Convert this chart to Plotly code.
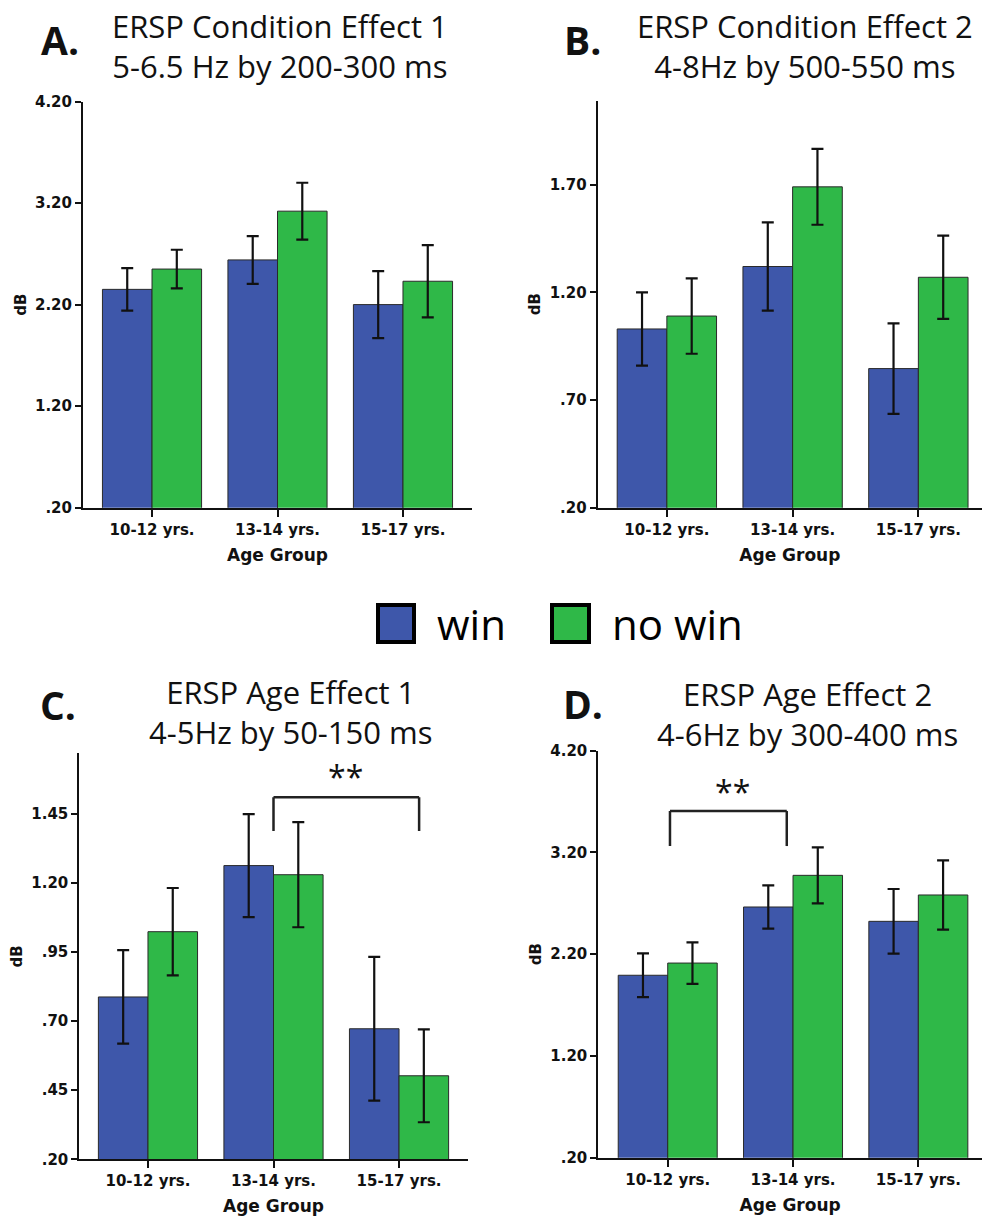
import plotly.graph_objects as go

# ---------------- data ----------------
categories = ["10-12 yrs.", "13-14 yrs.", "15-17 yrs."]
series_names = ["win", "no win"]

A_win = [2.35, 2.64, 2.20]
A_win_err = [0.21, 0.235, 0.33]
A_nowin = [2.55, 3.12, 2.43]
A_nowin_err = [0.19, 0.28, 0.355]

B_win = [1.03, 1.32, 0.846]
B_win_err = [0.17, 0.205, 0.21]
B_nowin = [1.09, 1.69, 1.27]
B_nowin_err = [0.175, 0.176, 0.193]

C_win = [0.787, 1.262, 0.672]
C_win_err = [0.169, 0.186, 0.26]
C_nowin = [1.023, 1.229, 0.502]
C_nowin_err = [0.158, 0.19, 0.168]

D_win = [1.993, 2.664, 2.523]
D_win_err = [0.215, 0.213, 0.318]
D_nowin = [2.113, 2.975, 2.782]
D_nowin_err = [0.204, 0.275, 0.34]

ticks_AD = [0.2, 1.2, 2.2, 3.2, 4.2]
ticklabels_AD = [".20", "1.20", "2.20", "3.20", "4.20"]
ticks_B = [0.2, 0.7, 1.2, 1.7]
ticklabels_B = [".20", ".70", "1.20", "1.70"]
ticks_C = [0.2, 0.45, 0.7, 0.95, 1.2, 1.45]
ticklabels_C = [".20", ".45", ".70", ".95", "1.20", "1.45"]

titles = {
    "A": ("ERSP Condition Effect 1", "5-6.5 Hz by 200-300 ms"),
    "B": ("ERSP Condition Effect 2", "4-8Hz by 500-550 ms"),
    "C": ("ERSP Age Effect 1", "4-5Hz by 50-150 ms"),
    "D": ("ERSP Age Effect 2", "4-6Hz by 300-400 ms"),
}

# ---------------- style ----------------
W, H = 982, 1218
BLUE = "#3E57AA"
GREEN = "#2FB848"
INK = "#111111"
TICKFONT = dict(family="DejaVu Sans", size=15, color=INK, weight="bold")
AXTITLEFONT = dict(family="DejaVu Sans", size=17, color=INK, weight="bold")
DBFONT = dict(family="DejaVu Sans", size=15, color=INK, weight="bold")
TITLEFONT = dict(family="Open Sans", size=31, color=INK)
LETTERFONT = dict(family="Open Sans", size=39, color=INK, weight="bold")


def px(x):
    return x / W


def py(y):
    return 1 - y / H


fig = go.Figure()

panels = [
    ("A", "", A_win, A_win_err, A_nowin, A_nowin_err, (83, 472), (101.5, 507.7), [-0.55, 2.55], [0.2, 4.2], ticks_AD, ticklabels_AD),
    ("B", "2", B_win, B_win_err, B_nowin, B_nowin_err, (597.7, 982), (100.7, 507.7), [-0.55, 2.506], [0.2, 2.09], ticks_B, ticklabels_B),
    ("C", "3", C_win, C_win_err, C_nowin, C_nowin_err, (79.3, 467.7), (753.3, 1159.3), [-0.547, 2.547], [0.2, 1.668], ticks_C, ticklabels_C),
    ("D", "4", D_win, D_win_err, D_nowin, D_nowin_err, (598.3, 982), (750.7, 1157.7), [-0.554, 2.508], [0.2, 4.2], ticks_AD, ticklabels_AD),
]

for name, sfx, win, win_err, nowin, nowin_err, xd, yd, xr, yr, tv, tt in panels:
    xa = "x" + sfx
    ya = "y" + sfx
    for vals, errs, col, nm in [(win, win_err, BLUE, series_names[0]), (nowin, nowin_err, GREEN, series_names[1])]:
        fig.add_trace(go.Bar(
            x=categories, y=vals, name=nm, xaxis=xa, yaxis=ya,
            marker=dict(color=col, line=dict(color="#2a2a2a", width=1)),
            error_y=dict(type="data", array=errs, color=INK, thickness=2.2, width=6),
            showlegend=False,
        ))
    fig.layout["xaxis" + sfx] = dict(
        domain=[px(xd[0]), px(xd[1])], range=xr, type="category", anchor=ya,
        showline=True, linecolor=INK, linewidth=2, ticks="outside", ticklen=7,
        tickwidth=1.5, tickcolor=INK, showgrid=False, zeroline=False,
        tickfont=TICKFONT, automargin=False,
        title=dict(text="Age Group", font=AXTITLEFONT, standoff=11),
    )
    fig.layout["yaxis" + sfx] = dict(
        domain=[py(yd[1]), py(yd[0])], range=yr, anchor=xa,
        showline=True, linecolor=INK, linewidth=2, ticks="outside", ticklen=6,
        tickwidth=1.5, tickcolor=INK, showgrid=False, zeroline=False,
        tickmode="array", tickvals=tv, ticktext=tt, tickfont=TICKFONT,
        automargin=False, title=dict(text="dB", font=DBFONT, standoff=5),
    )

# ---------------- titles ----------------
title_pos = {
    # letter center (x,y), two-line title center (x,y)
    "A": ((60, 40), (280, 46)),
    "B": ((582, 39), (805, 46)),
    "C": ((58, 704), (291, 712)),
    "D": ((583, 703), (807, 714)),
}
annotations = []
for name, (lp, tp) in title_pos.items():
    annotations.append(dict(text=name + ".", x=px(lp[0]), y=py(lp[1]), xref="paper", yref="paper",
                            xanchor="center", yanchor="middle", showarrow=False, font=LETTERFONT))
    annotations.append(dict(text=titles[name][0] + "<br>" + titles[name][1], x=px(tp[0]), y=py(tp[1]),
                            xref="paper", yref="paper", align="center",
                            xanchor="center", yanchor="middle", showarrow=False, font=TITLEFONT))

# ---------------- significance brackets ----------------
shapes = []
brackets = [
    ("x3", "y3", 1.0, 2.16, 1.509, 1.387, 1.576, 1.585),
    ("x4", "y4", 0.018, 0.95, 3.607, 3.263, 0.516, 3.80),
]
for xr_, yr_, x0, x1, yt, yl, sx, sy in brackets:
    for (a, b, c, d) in [(x0, yl, x0, yt), (x0, yt, x1, yt), (x1, yt, x1, yl)]:
        shapes.append(dict(type="line", xref=xr_, yref=yr_, x0=a, y0=b, x1=c, y1=d,
                           line=dict(color="#222222", width=2.5)))
    annotations.append(dict(text="**", x=sx, y=sy, xref=xr_, yref=yr_, showarrow=False,
                            xanchor="center", yanchor="middle",
                            font=dict(family="Open Sans", size=32, color=INK)))

# ---------------- legend (drawn) ----------------
legend_items = [(series_names[0], BLUE, 378, 414, 435), (series_names[1], GREEN, 552, 589, 610)]
for label, col, bx0, bx1, tx in legend_items:
    shapes.append(dict(type="rect", xref="paper", yref="paper", x0=px(bx0), x1=px(bx1),
                       y0=py(642), y1=py(605), fillcolor=col, line=dict(color="#000000", width=4)))
    annotations.append(dict(text=label, x=px(tx), y=py(623), xref="paper", yref="paper",
                            xanchor="left", yanchor="middle", showarrow=False,
                            font=dict(family="Open Sans", size=42, color="#000000")))

fig.update_layout(
    width=W, height=H, margin=dict(l=0, r=0, t=0, b=0),
    paper_bgcolor="white", plot_bgcolor="white",
    barmode="group", bargap=0.21, bargroupgap=0,
    showlegend=False, annotations=annotations, shapes=shapes,
)

fig.write_html("out.html")
